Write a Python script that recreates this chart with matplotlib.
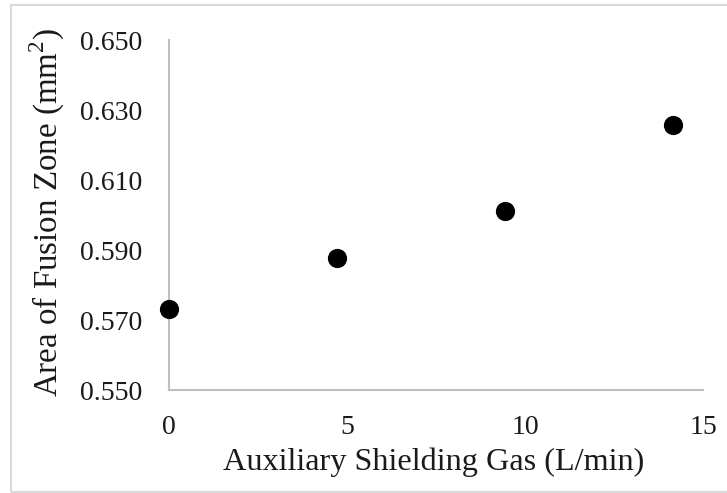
import matplotlib.pyplot as plt
from matplotlib.patches import Rectangle

# auxiliary shielding gas flow vs fusion zone area
gas_flow = [0.0, 4.72, 9.43, 14.15]
fz_area = [0.5731, 0.5876, 0.6011, 0.6257]

x_ticks = [0, 5, 10, 15]
y_ticks = [0.550, 0.570, 0.590, 0.610, 0.630, 0.650]

plt.rcParams['font.family'] = ['Liberation Serif', 'DejaVu Serif']
plt.rcParams['mathtext.fontset'] = 'custom'
plt.rcParams['mathtext.rm'] = 'Liberation Serif'

fig = plt.figure(figsize=(7.27, 4.93), dpi=100)
# axes box in pixels: x 169..703, y 40..390
ax = fig.add_axes([169 / 727, 1 - 390 / 493, (703 - 169) / 727, (390 - 40) / 493])

ax.scatter(gas_flow, fz_area, s=165, color='black', zorder=3, clip_on=False)

ax.set_xlim(0, 15)
ax.set_ylim(0.55, 0.65)
ax.set_xticks(x_ticks)
ax.set_yticks(y_ticks)
ax.set_yticklabels([f"{v:.3f}" for v in y_ticks])
ax.tick_params(axis='both', length=0, labelsize=20, colors='#1a1a1a')
ax.tick_params(axis='y', pad=19)
ax.tick_params(axis='x', pad=18)

for side in ['top', 'right']:
    ax.spines[side].set_visible(False)
for side in ['left', 'bottom']:
    ax.spines[side].set_color('#bfbfbf')
    ax.spines[side].set_linewidth(1.5)

ax.set_xlabel('Auxiliary Shielding Gas (L/min)', fontsize=23.2, color='#1a1a1a')
ax.set_ylabel(r'Area of Fusion Zone (mm$^{\mathrm{2}}$)', fontsize=23.8, color='#1a1a1a')
ax.xaxis.set_label_coords((434 - 169) / (703 - 169), -(462 - 390) / 350)
ax.xaxis.label.set_va('center')
ax.yaxis.set_label_coords(-(169 - 47) / (703 - 169), (390 - 212) / 350)
ax.yaxis.label.set_va('center')

# chart area frame
fig.patches.append(Rectangle((11 / 727, 1 - 492 / 493), 1, 487 / 493,
                             transform=fig.transFigure, fill=False,
                             edgecolor='#d9d9d9', linewidth=1.5))

fig.savefig('out.png', dpi=100)
